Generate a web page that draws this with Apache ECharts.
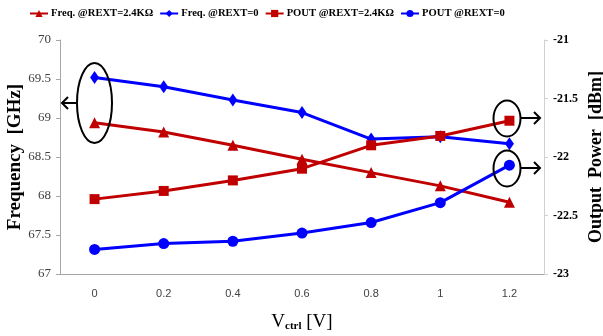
<!DOCTYPE html>
<html>
<head>
<meta charset="utf-8">
<script src="https://cdn.jsdelivr.net/npm/echarts@6/dist/echarts.min.js"></script>
<style>
html,body{margin:0;padding:0;background:#fff;}
#c{width:603px;height:336px;}
</style>
</head>
<body>
<div id="c"></div>
<script>
const categories = ['0', '0.2', '0.4', '0.6', '0.8', '1', '1.2'];
const freqRext24 = [68.94, 68.82, 68.65, 68.47, 68.30, 68.13, 67.92];
const freqRext0 = [69.52, 69.40, 69.23, 69.07, 68.73, 68.76, 68.67];
const poutRext24 = [-22.36, -22.29, -22.20, -22.10, -21.90, -21.82, -21.69];
const poutRext0 = [-22.79, -22.74, -22.72, -22.65, -22.56, -22.39, -22.07];
const leftTicks = [67, 67.5, 68, 68.5, 69, 69.5, 70];
const rightTicks = [-23, -22.5, -22, -21.5, -21];

const RED = '#C00000', BLUE = '#0000FF';
const chart = echarts.init(document.getElementById('c'), null, {renderer: 'canvas'});
const serif = '"Liberation Serif", "Times New Roman", serif';

chart.setOption({
  animation: false,
  backgroundColor: '#fff',
  legend: {
    top: 3, left: 24,
    itemWidth: 18, itemHeight: 9, itemGap: 6,
    textStyle: {fontFamily: serif, fontWeight: 'bold', fontSize: 10.6, color: '#000', padding: [0, 0, 0, -2]},
    data: ['Freq. @REXT=2.4KΩ', 'Freq. @REXT=0', 'POUT @REXT=2.4KΩ', 'POUT @REXT=0']
  },
  grid: {left: 60, right: 59, top: 40, bottom: 62, outerBoundsMode: 'none', containLabel: false},
  xAxis: {
    type: 'category', data: categories, boundaryGap: true,
    axisLine: {lineStyle: {color: '#A6A6A6', width: 1}},
    axisTick: {lineStyle: {color: '#A6A6A6'}, length: 5},
    axisLabel: {color: '#404040', fontFamily: '"Liberation Sans", Arial, sans-serif', fontSize: 11, margin: 14},
    name: '{v|V}{s|ctrl}{v| [V]}', nameLocation: 'middle', nameGap: 39, nameMoveOverlap: false,
    nameTextStyle: {
      rich: {
        v: {fontFamily: serif, fontSize: 19, color: '#000'},
        s: {fontFamily: serif, fontSize: 11, fontWeight: 'bold', color: '#000', verticalAlign: 'bottom', padding: [8,0,0,0]}
      }
    }
  },
  yAxis: [{
    type: 'value', min: 67, max: 70, interval: 0.5,
    axisLine: {show: true, lineStyle: {color: '#A6A6A6'}},
    axisTick: {show: true, lineStyle: {color: '#A6A6A6'}, length: 4},
    splitLine: {show: false},
    axisLabel: {color: '#404040', fontFamily: serif, fontSize: 13, margin: 9},
    name: 'Frequency  [GHz]', nameLocation: 'middle', nameGap: 35, nameRotate: 90, nameMoveOverlap: false,
    nameTextStyle: {fontFamily: serif, fontWeight: 'bold', fontSize: 19, color: '#000'}
  }, {
    type: 'value', min: -23, max: -21, interval: 0.5, position: 'right',
    axisLine: {show: true, lineStyle: {color: '#D0D0D0'}},
    axisTick: {show: true, lineStyle: {color: '#D0D0D0'}, length: 4},
    splitLine: {show: false},
    axisLabel: {color: '#000', fontFamily: serif, fontWeight: 'bold', fontSize: 12, margin: 9},
    name: 'Output  Power  [dBm]', nameLocation: 'middle', nameGap: 43, nameRotate: 90, nameMoveOverlap: false,
    nameTextStyle: {fontFamily: serif, fontWeight: 'bold', fontSize: 18, color: '#000'}
  }],
  series: [
    {name: 'Freq. @REXT=2.4KΩ', type: 'line', yAxisIndex: 0, data: freqRext24,
     symbol: 'triangle', symbolSize: 11, showAllSymbol: true,
     lineStyle: {color: RED, width: 3}, itemStyle: {color: RED}},
    {name: 'Freq. @REXT=0', type: 'line', yAxisIndex: 0, data: freqRext0,
     symbol: 'diamond', symbolSize: [9, 13],
     lineStyle: {color: BLUE, width: 3}, itemStyle: {color: BLUE}},
    {name: 'POUT @REXT=2.4KΩ', type: 'line', yAxisIndex: 1, data: poutRext24,
     symbol: 'rect', symbolSize: 10,
     lineStyle: {color: RED, width: 3}, itemStyle: {color: RED}},
    {name: 'POUT @REXT=0', type: 'line', yAxisIndex: 1, data: poutRext0,
     symbol: 'circle', symbolSize: 11,
     lineStyle: {color: BLUE, width: 3}, itemStyle: {color: BLUE}}
  ],
  graphic: [
    {type: 'ellipse', shape: {cx: 94.5, cy: 103, rx: 17.5, ry: 40}, style: {fill: 'none', stroke: '#000', lineWidth: 2}, z: 100},
    {type: 'polyline', shape: {points: [[77, 103], [62, 103]]}, style: {stroke: '#000', lineWidth: 2}, z: 100},
    {type: 'polyline', shape: {points: [[68, 97], [62, 103], [68, 109]]}, style: {stroke: '#000', lineWidth: 2, fill: 'none'}, z: 100},
    {type: 'ellipse', shape: {cx: 507, cy: 118.5, rx: 13.5, ry: 18}, style: {fill: 'none', stroke: '#000', lineWidth: 2}, z: 100},
    {type: 'polyline', shape: {points: [[521, 118], [540, 118]]}, style: {stroke: '#000', lineWidth: 2}, z: 100},
    {type: 'polyline', shape: {points: [[534, 112], [540, 118], [534, 124]]}, style: {stroke: '#000', lineWidth: 2, fill: 'none'}, z: 100},
    {type: 'ellipse', shape: {cx: 507, cy: 168.5, rx: 13.5, ry: 18}, style: {fill: 'none', stroke: '#000', lineWidth: 2}, z: 100},
    {type: 'polyline', shape: {points: [[521, 168], [540, 168]]}, style: {stroke: '#000', lineWidth: 2}, z: 100},
    {type: 'polyline', shape: {points: [[534, 162], [540, 168], [534, 174]]}, style: {stroke: '#000', lineWidth: 2, fill: 'none'}, z: 100}
  ]
});
</script>
</body>
</html>
